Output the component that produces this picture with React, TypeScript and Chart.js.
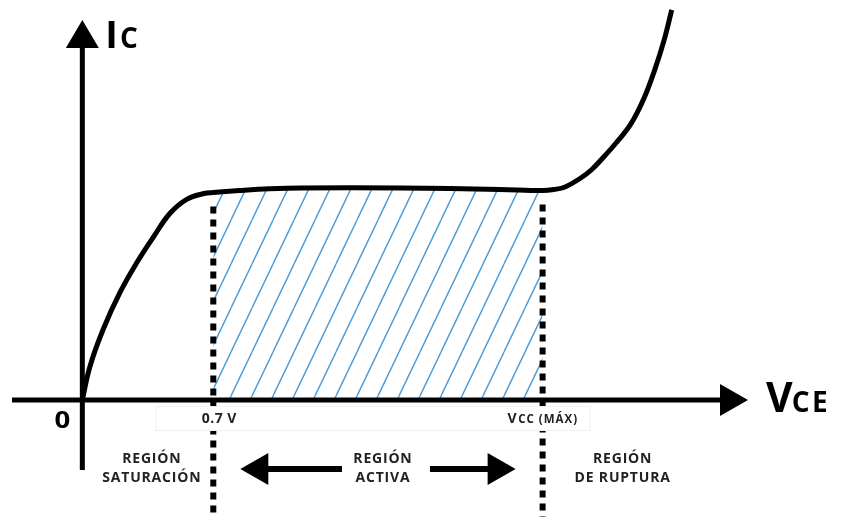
import React, { useEffect, useRef } from "react";
import { Chart, registerables } from "chart.js";

Chart.register(...registerables);

// ---- data (VCE in V, IC in arbitrary mA) ----
const VCE = [0, 0.04, 0.11, 0.2, 0.29, 0.38, 0.47, 0.56, 0.65, 0.7, 0.84, 1.0, 1.17, 1.7, 2.23, 2.46, 2.52, 2.58, 2.66, 2.72, 2.79, 2.85, 2.93, 3.0, 3.06, 3.11, 3.15];
const IC = [0, 1.56, 3.3, 5.05, 6.46, 7.69, 8.82, 9.48, 9.74, 9.79, 9.88, 9.96, 10.0, 10.0, 9.93, 9.88, 9.93, 10.05, 10.45, 10.85, 11.5, 12.1, 13.0, 14.2, 15.6, 17.0, 18.4];

const V_SAT = 0.7;
const V_CC = 2.46;

const X_MIN = -0.44;
const X_MAX = 4.06;
const Y_MIN = -5.52;
const Y_MAX = 18.87;

const ORIGIN_LABEL = "0";
const SAT_LABEL = "0.7 V";
const VCC_MAIN = "V";
const VCC_SUB = "CC (MÁX)";
const Y_TITLE = ["I", "C"];
const X_TITLE = ["V", "CE"];
const REGION_SAT = ["REGIÓN", "SATURACIÓN"];
const REGION_ACT = ["REGIÓN", "ACTIVA"];
const REGION_RUP = ["REGIÓN", "DE RUPTURA"];

const HATCH_COLOR = "#4a9bd8";
const FONT = "'Open Sans', 'DejaVu Sans', sans-serif";

function icAt(v: number): number {
  const i = VCE.indexOf(v);
  return i >= 0 ? IC[i] : 0;
}

export default function App() {
  const ref = useRef<HTMLCanvasElement | null>(null);

  useEffect(() => {
    const canvas = ref.current;
    if (!canvas) return;
    const mainCtx = canvas.getContext("2d")!;

    const tile = document.createElement("canvas");
    tile.width = 21;
    tile.height = 44;
    const g = tile.getContext("2d")!;
    g.strokeStyle = HATCH_COLOR;
    g.lineWidth = 1.4;
    for (const dx of [-21, 0, 21]) {
      g.beginPath();
      g.moveTo(dx, 44);
      g.lineTo(dx + 21, 0);
      g.stroke();
    }
    const hatch = mainCtx.createPattern(tile, "repeat");

    const curve = VCE.map((x, i) => ({ x, y: IC[i] }));
    const active = curve.filter((p) => p.x >= V_SAT && p.x <= V_CC);

    const arrowHead = (ctx: CanvasRenderingContext2D, tx: number, ty: number, dir: "up" | "left" | "right", len: number, half: number) => {
      ctx.beginPath();
      if (dir === "up") {
        ctx.moveTo(tx, ty);
        ctx.lineTo(tx - half, ty + len);
        ctx.lineTo(tx + half, ty + len);
      } else if (dir === "right") {
        ctx.moveTo(tx, ty);
        ctx.lineTo(tx - len, ty - half);
        ctx.lineTo(tx - len, ty + half);
      } else {
        ctx.moveTo(tx, ty);
        ctx.lineTo(tx + len, ty - half);
        ctx.lineTo(tx + len, ty + half);
      }
      ctx.closePath();
      ctx.fill();
    };

    const overlay = {
      id: "overlay",
      afterDatasetsDraw(chart: any) {
        const ctx: CanvasRenderingContext2D = chart.ctx;
        const xs = chart.scales.x;
        const ys = chart.scales.y;
        const ox = xs.getPixelForValue(0);
        const oy = ys.getPixelForValue(0);
        const H = chart.height;
        ctx.save();

        // dashed vertical lines
        ctx.strokeStyle = "#000";
        ctx.lineWidth = 6;
        ctx.setLineDash([7, 6]);
        for (const m of [V_SAT, V_CC]) {
          const px = xs.getPixelForValue(m);
          const top = ys.getPixelForValue(icAt(m)) + 14;
          ctx.beginPath();
          ctx.moveTo(px, top);
          ctx.lineTo(px, H);
          ctx.stroke();
        }
        ctx.setLineDash([]);

        // axes
        ctx.fillStyle = "#000";
        ctx.lineWidth = 5;
        ctx.beginPath();
        ctx.moveTo(ox, oy + 70);
        ctx.lineTo(ox, 46);
        ctx.stroke();
        arrowHead(ctx, ox, 20, "up", 28, 16.5);
        ctx.beginPath();
        ctx.moveTo(12, oy);
        ctx.lineTo(722, oy);
        ctx.stroke();
        arrowHead(ctx, 748, oy, "right", 28, 16);

        // white label boxes
        const sx = xs.getPixelForValue(V_SAT);
        const cx = xs.getPixelForValue(V_CC);
        ctx.fillStyle = "#fff";
        ctx.strokeStyle = "#f0f0f0";
        ctx.lineWidth = 1;
        ctx.fillRect(sx - 58, oy + 6, cx - sx + 105, 24);
        ctx.strokeRect(sx - 58 + 0.5, oy + 6.5, cx - sx + 105, 24);

        // axis titles
        ctx.fillStyle = "#000";
        ctx.textBaseline = "alphabetic";
        ctx.textAlign = "left";
        ctx.font = `bold 38px ${FONT}`;
        ctx.fillText(Y_TITLE[0], ox + 23, 48);
        const iw = ctx.measureText(Y_TITLE[0]).width;
        ctx.font = `bold 28px ${FONT}`;
        (ctx as any).letterSpacing = "1px";
        ctx.fillText(Y_TITLE[1], ox + 23 + iw + 2, 48);

        ctx.font = `bold 41px ${FONT}`;
        (ctx as any).letterSpacing = "0px";
        ctx.fillText(X_TITLE[0], 766, oy + 12);
        const vw = ctx.measureText(X_TITLE[0]).width;
        ctx.font = `bold 28px ${FONT}`;
        (ctx as any).letterSpacing = "2.5px";
        ctx.fillText(X_TITLE[1], 766 + vw - 1, oy + 12);
        (ctx as any).letterSpacing = "0px";

        // tick labels
        ctx.textAlign = "center";
        ctx.font = `bold 23px ${FONT}`;
        ctx.save();
        ctx.translate(ox - 20, oy + 28);
        ctx.scale(1.2, 1);
        ctx.fillText(ORIGIN_LABEL, 0, 0);
        ctx.restore();
        ctx.fillStyle = "#222";
        ctx.font = `bold 14px ${FONT}`;
        (ctx as any).letterSpacing = "0.5px";
        ctx.fillText(SAT_LABEL, sx + 6, oy + 23);
        ctx.textAlign = "left";
        ctx.font = `bold 14px ${FONT}`;
        ctx.fillText(VCC_MAIN, cx - 35, oy + 23);
        const vcw = ctx.measureText(VCC_MAIN).width;
        ctx.font = `bold 11.5px ${FONT}`;
        (ctx as any).letterSpacing = "1px";
        ctx.fillText(VCC_SUB, cx - 35 + vcw + 1, oy + 23);

        // region labels
        ctx.textAlign = "center";
        ctx.fillStyle = "#222";
        ctx.font = `bold 14px ${FONT}`;
        (ctx as any).letterSpacing = "0.8px";
        const regions: [string[], number][] = [
          [REGION_SAT, (ox + sx) / 2 + 4],
          [REGION_ACT, (sx + cx) / 2 + 5],
          [REGION_RUP, cx + 80],
        ];
        for (const [lines, x] of regions) {
          ctx.fillText(lines[0], x, oy + 63);
          ctx.fillText(lines[1], x, oy + 82);
        }
        (ctx as any).letterSpacing = "0px";

        // region arrows
        const mid = (sx + cx) / 2 + 5;
        const ay = oy + 69;
        ctx.fillStyle = "#000";
        ctx.strokeStyle = "#000";
        ctx.lineWidth = 6;
        ctx.beginPath();
        ctx.moveTo(mid - 41, ay);
        ctx.lineTo(sx + 54, ay);
        ctx.stroke();
        arrowHead(ctx, sx + 27, ay, "left", 28, 16);
        ctx.beginPath();
        ctx.moveTo(mid + 47, ay);
        ctx.lineTo(cx - 54, ay);
        ctx.stroke();
        arrowHead(ctx, cx - 27, ay, "right", 28, 16);

        ctx.restore();
      },
    };

    const chart = new Chart(canvas, {
      type: "line",
      data: {
        datasets: [
          {
            data: curve,
            borderColor: "#000",
            borderWidth: 5,
            pointRadius: 0,
            tension: 0.4,
            fill: false,
          },
          {
            data: active,
            borderWidth: 0,
            borderColor: "rgba(0,0,0,0)",
            backgroundColor: hatch as any,
            pointRadius: 0,
            tension: 0.4,
            fill: "origin",
          },
        ],
      },
      options: {
        responsive: false,
        animation: false,
        layout: { padding: 0 },
        plugins: { legend: { display: false }, tooltip: { enabled: false } },
        scales: {
          x: { type: "linear", min: X_MIN, max: X_MAX, display: false },
          y: { type: "linear", min: Y_MIN, max: Y_MAX, display: false },
        },
      },
      plugins: [overlay],
    });
    return () => chart.destroy();
  }, []);

  return (
    <div style={{ position: "fixed", left: 0, top: 0, width: 842, height: 517, background: "#fff" }}>
      <canvas ref={ref} width={842} height={517} style={{ display: "block" }} />
    </div>
  );
}
